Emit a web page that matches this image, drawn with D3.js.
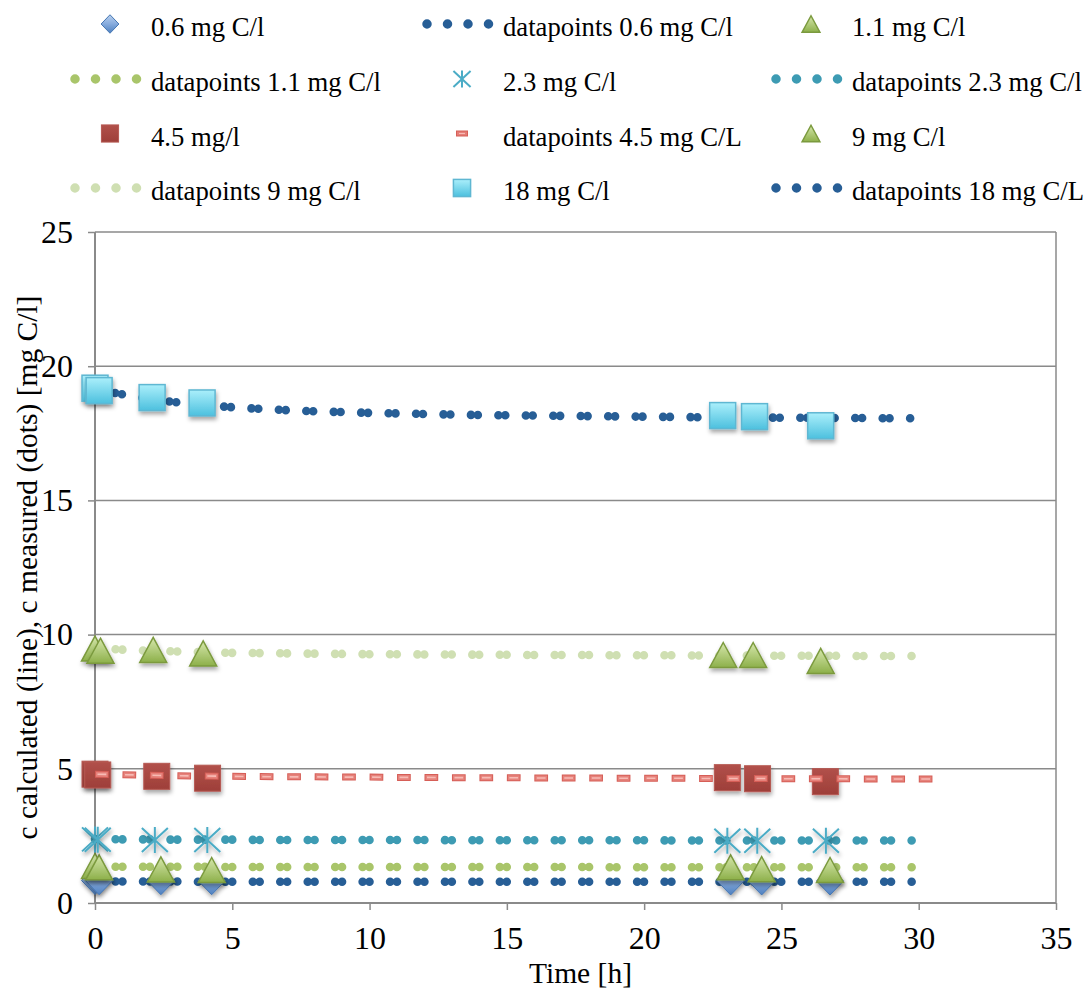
<!DOCTYPE html>
<html><head><meta charset="utf-8">
<script src="https://cdn.jsdelivr.net/npm/d3@7"></script>
<style>
body{margin:0;background:#fff}
svg{display:block}
text{font-family:"Liberation Serif","Times New Roman",serif;fill:#000}
</style>
</head><body>
<svg id="chart" width="1090" height="994"></svg>
<script>
// ---------------- data ----------------
const xTicks = [0, 5, 10, 15, 20, 25, 30, 35];
const yTicks = [0, 5, 10, 15, 20, 25];

// time grid of the calculated ("datapoints") curves
const calcTimes = [0,1,2,3,4,5,6,7,8,9,10,11,12,13,14,15,16,17,18,19,20,21,22,23,24,25,26,27,28,29,29.8];
const calcTimes45 = [0,1,2,3,4,5,6,7,8,9,10,11,12,13,14,15,16,17,18,19,20,21,22,23,24,25,26,27,28,29,30,30.5];

const dp06 = [0.80,0.80,0.80,0.80,0.79,0.79,0.79,0.79,0.79,0.79,0.79,0.79,0.79,0.79,0.79,0.79,0.79,0.79,0.79,0.79,0.79,0.79,0.79,0.79,0.79,0.79,0.79,0.79,0.79,0.79,0.79];
const dp11 = [1.36,1.35,1.35,1.35,1.35,1.34,1.34,1.34,1.34,1.34,1.34,1.34,1.34,1.34,1.34,1.34,1.34,1.34,1.34,1.33,1.33,1.33,1.33,1.33,1.33,1.33,1.33,1.33,1.33,1.33,1.33];
const dp23 = [2.38,2.37,2.37,2.36,2.36,2.36,2.35,2.35,2.35,2.35,2.35,2.35,2.35,2.34,2.34,2.34,2.34,2.34,2.34,2.34,2.34,2.33,2.33,2.33,2.33,2.33,2.33,2.33,2.33,2.33,2.33];
const dp45 = [4.80,4.78,4.76,4.74,4.73,4.72,4.71,4.70,4.70,4.69,4.69,4.68,4.68,4.67,4.67,4.67,4.66,4.66,4.66,4.65,4.65,4.65,4.64,4.64,4.64,4.63,4.63,4.63,4.62,4.62,4.62,4.62];
const dp9  = [9.50,9.44,9.40,9.37,9.34,9.32,9.31,9.30,9.29,9.28,9.27,9.27,9.26,9.26,9.25,9.25,9.24,9.24,9.24,9.23,9.23,9.23,9.22,9.22,9.22,9.21,9.21,9.21,9.20,9.20,9.20];
const dp18 = [19.15,18.95,18.78,18.65,18.55,18.47,18.41,18.36,18.32,18.29,18.26,18.24,18.22,18.20,18.18,18.17,18.16,18.15,18.14,18.13,18.12,18.11,18.10,18.10,18.09,18.08,18.08,18.07,18.07,18.06,18.06];

// measured values
const t06 = [0, 0.15, 2.4, 4.25, 23.15, 24.28, 26.77];
const m06 = [0.84, 0.83, 0.83, 0.83, 0.82, 0.82, 0.82];
const t11 = [0, 0.15, 2.4, 4.25, 23.15, 24.28, 26.77];
const m11 = [1.38, 1.33, 1.25, 1.23, 1.33, 1.26, 1.23];
const t23 = [0, 0.1, 2.18, 4.09, 23.03, 24.12, 26.62];
const m23 = [2.37, 2.36, 2.35, 2.35, 2.32, 2.32, 2.32];
const t45 = [0, 0.1, 2.25, 4.1, 23.03, 24.13, 26.6];
const m45 = [4.80, 4.77, 4.72, 4.65, 4.67, 4.63, 4.52];
const t9  = [0, 0.2, 2.12, 3.94, 22.88, 23.97, 26.43];
const m9  = [9.48, 9.40, 9.43, 9.30, 9.24, 9.24, 9.02];
const t18 = [0, 0.15, 2.08, 3.9, 22.86, 24.02, 26.43];
const m18 = [19.18, 19.09, 18.83, 18.63, 18.16, 18.12, 17.78];

const legendLabels = [
  "0.6 mg C/l", "datapoints 0.6 mg C/l", "1.1 mg C/l",
  "datapoints 1.1 mg C/l", "2.3 mg C/l", "datapoints 2.3 mg C/l",
  "4.5 mg/l", "datapoints 4.5 mg C/L", "9 mg C/l",
  "datapoints 9 mg C/l", "18 mg C/l", "datapoints 18 mg C/L"
];
const xTitle = "Time [h]";
const yTitle = "c calculated (line), c measured (dots) [mg C/l]";

// ---------------- setup ----------------
const SERIF = '"Liberation Serif", "Times New Roman", Times, serif';
const svg = d3.select("#chart");
const plot = {left: 95, right: 1056, top: 232, bottom: 903};
const FONT_LEG = 26.7, FONT_TICK = 32, FONT_TITLE = 29.5;

const x = d3.scaleLinear().domain([0, 35]).range([plot.left, plot.right]);
const y = d3.scaleLinear().domain([0, 25]).range([plot.bottom, plot.top]);

const defs = svg.append("defs");
function grad(id, stops) {
  const g = defs.append("linearGradient").attr("id", id)
    .attr("x1", 0).attr("y1", 0).attr("x2", 0).attr("y2", 1);
  stops.forEach(s => g.append("stop").attr("offset", s[0]).attr("stop-color", s[1]));
}
grad("gDiamond", [[0, "#B9D0EE"], [0.5, "#86ABDD"], [1, "#4E80BF"]]);
grad("gTri", [[0, "#D6E7AC"], [1, "#8DB04A"]]);
grad("gSq18", [[0, "#ABEFFB"], [1, "#4CC0DE"]]);
grad("gSq45", [[0, "#B1504A"], [1, "#9E3F39"]]);
const f = defs.append("filter").attr("id", "shadow")
  .attr("x", "-50%").attr("y", "-50%").attr("width", "200%").attr("height", "200%");
f.append("feDropShadow").attr("dx", 1).attr("dy", 3).attr("stdDeviation", 2)
  .attr("flood-color", "#000").attr("flood-opacity", 0.35);

// ---------------- grid & frame ----------------
const gridColor = "#8A8A8A";
svg.append("g").selectAll("line").data(yTicks.filter(d => d > 0)).join("line")
  .attr("x1", plot.left).attr("x2", plot.right)
  .attr("y1", d => y(d)).attr("y2", d => y(d))
  .attr("stroke", gridColor).attr("stroke-width", 1.5);
svg.append("line").attr("x1", plot.right).attr("x2", plot.right)
  .attr("y1", plot.top).attr("y2", plot.bottom)
  .attr("stroke", gridColor).attr("stroke-width", 1.5);

// axes
const xAxis = svg.append("g").attr("transform", `translate(0,${plot.bottom})`)
  .call(d3.axisBottom(x).tickValues(xTicks).tickSize(7).tickPadding(16).tickFormat(d3.format("d")));
const yAxis = svg.append("g").attr("transform", `translate(${plot.left},0)`)
  .call(d3.axisLeft(y).tickValues(yTicks).tickSize(7).tickPadding(15).tickFormat(d3.format("d")));
[xAxis, yAxis].forEach(a => {
  a.attr("font-family", SERIF);
  a.select(".domain").attr("stroke", gridColor).attr("stroke-width", 2);
  a.selectAll(".tick line").attr("stroke", gridColor).attr("stroke-width", 1.5);
  a.selectAll("text").attr("font-size", FONT_TICK).attr("fill", "#000")
    .style("font-family", SERIF);
});
xAxis.select(".domain").attr("d", `M${plot.left},0H${plot.right}`);
yAxis.select(".domain").attr("d", `M0,${plot.top}V${plot.bottom}`);

svg.append("text").attr("x", (plot.left + plot.right) / 2 + 5).attr("y", 983)
  .attr("text-anchor", "middle").attr("font-size", FONT_TITLE).style("font-family", SERIF).text(xTitle);
svg.append("text").attr("transform", `translate(37,${(plot.top + plot.bottom) / 2}) rotate(-90)`)
  .attr("text-anchor", "middle").attr("font-size", FONT_TITLE).style("font-family", SERIF).text(yTitle);

// ---------------- marker shapes ----------------
const shapes = {
  diamond: (g, s) => g.append("path").attr("d", `M0,${-14*s}L${13.5*s},0L0,${14*s}L${-13.5*s},0Z`)
      .attr("fill", "url(#gDiamond)").attr("stroke", "#4677B3").attr("stroke-width", 1),
  triangle: (g, s) => g.append("path").attr("d", `M0,${-12.5*s}L${13.5*s},${12.5*s}L${-13.5*s},${12.5*s}Z`)
      .attr("fill", "url(#gTri)").attr("stroke", "#7B9A3E").attr("stroke-width", 1.5),
  sq18: (g, s) => g.append("rect").attr("x", -13*s).attr("y", -13*s).attr("width", 26*s).attr("height", 26*s)
      .attr("fill", "url(#gSq18)").attr("stroke", "#5FB7D2").attr("stroke-width", 1.5),
  sq45: (g, s) => g.append("rect").attr("x", -13*s).attr("y", -13*s).attr("width", 26*s).attr("height", 26*s)
      .attr("fill", "url(#gSq45)").attr("stroke", "#B65852").attr("stroke-width", 1),
  star: (g, s) => g.append("path")
      .attr("d", `M0,${-13*s}V${13*s}M${-13*s},${-12*s}L${13*s},${12*s}M${-13*s},${12*s}L${13*s},${-12*s}`)
      .attr("fill", "none").attr("stroke", "#4BACC6").attr("stroke-width", 2)
};

const period = x(1) - x(0);
const lineGen = d3.line().x(d => x(d[0])).y(d => y(d[1]));

function drawMarkers(times, vals, shape) {
  const g = svg.append("g");
  times.forEach((t, i) => {
    const m = g.append("g").attr("transform", `translate(${x(t)},${y(vals[i])})`)
      .attr("filter", "url(#shadow)");
    shapes[shape](m, 1);
  });
}
function drawDots(times, vals, color) {
  svg.append("path").datum(times.map((t, i) => [t, vals[i]]))
    .attr("d", lineGen).attr("fill", "none").attr("stroke", color)
    .attr("stroke-width", 8.6).attr("stroke-linecap", "round")
    .attr("stroke-dasharray", `0 ${(0.75*period).toFixed(2)} 0 ${(0.25*period).toFixed(2)}`);
}
function drawDashes(times, vals) {
  const data = times.map((t, i) => [t, vals[i]]);
  const h = period / 2;
  svg.append("path").datum(data).attr("d", lineGen).attr("fill", "none")
    .attr("stroke", "#D65E57").attr("stroke-width", 7)
    .attr("stroke-dasharray", `${h.toFixed(2)} ${h.toFixed(2)}`);
  svg.append("path").datum(data).attr("d", lineGen).attr("fill", "none")
    .attr("stroke", "#E6827B").attr("stroke-width", 5)
    .attr("stroke-dasharray", `${(h-2).toFixed(2)} ${(h+2).toFixed(2)}`).attr("stroke-dashoffset", -1);
  svg.append("path").datum(data).attr("d", lineGen).attr("fill", "none")
    .attr("stroke", "#F7BBB5").attr("stroke-width", 1.6)
    .attr("stroke-dasharray", `${(h-5).toFixed(2)} ${(h+5).toFixed(2)}`).attr("stroke-dashoffset", -2.5);
}

const C_DB = "#275E96", C_G = "#A9C56A", C_T = "#3D9BB3", C_LG = "#CFDFB2";

// calculated dotted curves underneath the measured markers
drawDots(calcTimes, dp06, C_DB);
drawDots(calcTimes, dp11, C_G);
drawDots(calcTimes, dp23, C_T);
drawDots(calcTimes, dp9, C_LG);
drawDots(calcTimes, dp18, C_DB);

drawMarkers(t06, m06, "diamond");
drawMarkers(t11, m11, "triangle");
drawMarkers(t23, m23, "star");
drawMarkers(t45, m45, "sq45");
drawDashes(calcTimes45, dp45);
drawMarkers(t9, m9, "triangle");
drawMarkers(t18, m18, "sq18");

// ---------------- legend ----------------
const colX = [151, 503, 852];
const rowY = [24, 79, 133.5, 188];
const legendKinds = [
  {m: "diamond"}, {d: C_DB}, {m: "triangle"},
  {d: C_G}, {m: "star"}, {d: C_T},
  {m: "sq45"}, {dash: true}, {m: "triangle"},
  {d: C_LG}, {m: "sq18"}, {d: C_DB}
];
legendLabels.forEach((lab, i) => {
  const cx = colX[i % 3], cy = rowY[Math.floor(i / 3)];
  const k = legendKinds[i];
  const g = svg.append("g");
  if (k.m) {
    const m = g.append("g").attr("transform", `translate(${cx - 41},${cy})`);
    shapes[k.m](m, 0.66);
  } else if (k.d) {
    g.append("path").attr("d", `M${cx - 76},${cy}H${cx - 14}`)
      .attr("stroke", k.d).attr("stroke-width", 9.5).attr("stroke-linecap", "round")
      .attr("stroke-dasharray", "0 20.5");
  } else if (k.dash) {
    g.append("rect").attr("x", cx - 46.5).attr("y", cy - 2.5).attr("width", 11).attr("height", 5)
      .attr("fill", "#E47C75").attr("stroke", "#D65E57").attr("stroke-width", 1);
    g.append("line").attr("x1", cx - 44).attr("x2", cx - 38).attr("y1", cy).attr("y2", cy)
      .attr("stroke", "#F7BBB5").attr("stroke-width", 1.2);
  }
  g.append("text").attr("x", cx).attr("y", cy + 12).attr("font-size", FONT_LEG)
    .style("font-family", SERIF).text(lab);
});
</script>
</body></html>
